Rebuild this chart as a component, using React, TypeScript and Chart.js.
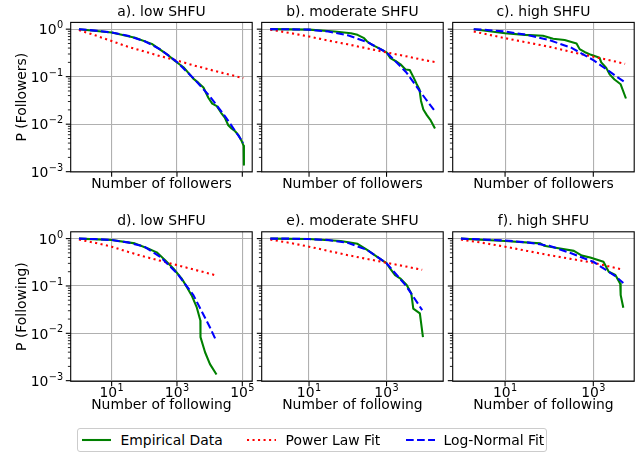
import React, { useEffect, useRef } from 'react';
import { Chart, registerables } from 'chart.js';

Chart.register(...registerables);

const FONT = 'DejaVu Sans';
Chart.defaults.font.family = FONT;

// ---------- data ----------
// a). low SHFU - followers
const aEmpX = [1, 10, 52, 170, 550, 870, 1580, 2240, 3160, 4570, 6460, 9120, 12000, 16600, 22400, 29500, 37200, 46800, 60300, 75900, 95500, 110000, 112000, 112000];
const aEmpY = [1, 0.85, 0.66, 0.49, 0.28, 0.214, 0.158, 0.12, 0.091, 0.074, 0.059, 0.036, 0.027, 0.024, 0.0174, 0.0135, 0.0095, 0.0081, 0.0071, 0.0059, 0.0044, 0.0035, 0.0027, 0.0014];
const aFitX = [1, 3.16, 10, 31.6, 100, 316, 1000, 3160, 10000, 31600, 107000];
const aLogNormY = [1, 0.933, 0.851, 0.724, 0.562, 0.372, 0.204, 0.0933, 0.0389, 0.0138, 0.00407];
const aPowerY = [0.955, 0.741, 0.562, 0.427, 0.339, 0.269, 0.219, 0.174, 0.141, 0.115, 0.0933];

// b). moderate SHFU - followers
const bEmpX = [1, 10, 45.7, 120, 178, 263, 316, 427, 631, 1000, 1259, 1698, 2291, 3090, 3981, 5012, 6026, 7079, 7762, 8913, 10965, 13804, 17783];
const bEmpY = [1, 0.977, 0.891, 0.822, 0.759, 0.646, 0.55, 0.468, 0.398, 0.324, 0.245, 0.214, 0.182, 0.141, 0.138, 0.0955, 0.0692, 0.0537, 0.0309, 0.0204, 0.0155, 0.012, 0.0081];
const bFitX = [1, 3.16, 10, 31.6, 100, 316, 1000, 3162, 10000, 17400];
const bLogNormY = [1, 0.993, 0.977, 0.891, 0.741, 0.537, 0.324, 0.126, 0.0347, 0.0191];
const bPowerY = [0.977, 0.832, 0.7, 0.575, 0.479, 0.394, 0.324, 0.269, 0.221, 0.204];

// c). high SHFU - followers
const cEmpX = [1.95, 10, 28.2, 72.4, 123, 224, 417, 490, 631, 891, 1380, 1514, 1950, 2344, 3020, 4169, 5495];
const cEmpY = [1, 0.822, 0.759, 0.724, 0.631, 0.589, 0.501, 0.38, 0.331, 0.288, 0.251, 0.2, 0.155, 0.112, 0.0871, 0.0692, 0.0347];
const cFitX = [1.95, 3.16, 10, 31.6, 100, 316, 1000, 3162, 5248];
const cLogNormY = [1, 0.977, 0.891, 0.759, 0.589, 0.407, 0.224, 0.105, 0.0759];
const cPowerY = [0.891, 0.813, 0.646, 0.525, 0.427, 0.331, 0.263, 0.209, 0.186];

// d). low SHFU - following
const dEmpX = [1, 10, 51.3, 129, 240, 427, 776, 1380, 1995, 2818, 3981, 5200, 5250, 7244, 10233, 16218];
const dEmpY = [1, 0.933, 0.794, 0.617, 0.513, 0.355, 0.234, 0.145, 0.0955, 0.0631, 0.0363, 0.0186, 0.0083, 0.00398, 0.00224, 0.00135];
const dFitX = [1, 3.16, 10, 31.6, 100, 316, 1000, 3162, 10000, 16200];
const dLogNormY = [1, 0.977, 0.933, 0.832, 0.676, 0.407, 0.186, 0.0646, 0.0138, 0.00676];
const dPowerY = [0.955, 0.813, 0.676, 0.525, 0.417, 0.339, 0.275, 0.224, 0.182, 0.166];

// e). moderate SHFU - following
const eEmpX = [1, 10, 66, 178, 316, 562, 1000, 1230, 1660, 2239, 3311, 4365, 4898, 7244, 8710];
const eEmpY = [1, 0.977, 0.891, 0.776, 0.575, 0.417, 0.302, 0.234, 0.17, 0.145, 0.105, 0.0692, 0.0331, 0.0263, 0.0083];
const eFitX = [1, 3.16, 10, 31.6, 100, 316, 1000, 3162, 8320];
const eLogNormY = [1, 0.998, 0.977, 0.933, 0.813, 0.575, 0.302, 0.102, 0.0309];
const ePowerY = [0.955, 0.813, 0.676, 0.55, 0.447, 0.372, 0.309, 0.257, 0.219];

// f). high SHFU - following
const fEmpX = [1, 10, 63, 76, 151, 363, 550, 851, 1698, 2239, 3162, 4074, 4169, 4786];
const fEmpY = [1, 0.891, 0.794, 0.708, 0.631, 0.55, 0.437, 0.398, 0.324, 0.2, 0.17, 0.112, 0.0646, 0.0347];
const fFitX = [1, 3.16, 10, 31.6, 100, 316, 1000, 3162, 4786];
const fLogNormY = [1, 0.955, 0.912, 0.832, 0.708, 0.49, 0.324, 0.162, 0.115];
const fPowerY = [0.955, 0.813, 0.676, 0.55, 0.447, 0.372, 0.309, 0.24, 0.219];

const PANEL_TITLES = ['a). low SHFU', 'b). moderate SHFU', 'c). high SHFU', 'd). low SHFU', 'e). moderate SHFU', 'f). high SHFU'];
const SERIES_NAMES = ['Empirical Data', 'Power Law Fit', 'Log-Normal Fit'];
const X_TITLES = ['Number of followers', 'Number of following'];
const Y_TITLES = ['P (Followers)', 'P (Following)'];

// tick labels: base "10" with a superscript exponent
const X_TICK_VALUES = [10, 1000, 100000];
const X_TICK_EXPONENTS = ['1', '3', '5'];
const Y_TICK_VALUES = [1, 0.1, 0.01, 0.001];
const Y_TICK_EXPONENTS = ['0', '\u22121', '\u22122', '\u22123'];

// axis limits (shared by column for x, by row for y)
const X_MIN = [0.559, 0.613, 0.65];
const X_MAX = [200700, 29000, 8450];
const Y_MIN = [0.00099, 0.00097];
const Y_MAX = [1.388, 1.392];

// ---------- layout ----------
const COL_LEFT = [70.7, 261.7, 452.7];
const PLOT_W = 181.5;
const ROW_TOP = [22.4, 231.8];
const PLOT_H = 149.5;
const FS = 13.9;
const SUP_FS = FS * 0.7;

const COLORS = { emp: 'green', pl: 'red', ln: 'blue' };
const LW = 2.08;

const zip = (xs: number[], ys: number[]) => xs.map((x, i) => ({ x, y: ys[i] }));

const PANELS = [
  { row: 0, col: 0, empX: aEmpX, empY: aEmpY, fitX: aFitX, lnY: aLogNormY, plY: aPowerY },
  { row: 0, col: 1, empX: bEmpX, empY: bEmpY, fitX: bFitX, lnY: bLogNormY, plY: bPowerY },
  { row: 0, col: 2, empX: cEmpX, empY: cEmpY, fitX: cFitX, lnY: cLogNormY, plY: cPowerY },
  { row: 1, col: 0, empX: dEmpX, empY: dEmpY, fitX: dFitX, lnY: dLogNormY, plY: dPowerY },
  { row: 1, col: 1, empX: eEmpX, empY: eEmpY, fitX: eFitX, lnY: eLogNormY, plY: ePowerY },
  { row: 1, col: 2, empX: fEmpX, empY: fEmpY, fitX: fFitX, lnY: fLogNormY, plY: fPowerY },
];

// draws "10" + raised exponent; anchor: 'center' (x axis) or 'right' (y axis)
function drawPow(ctx: any, exp: string, x: number, baseline: number, anchor: 'center' | 'right') {
  ctx.font = `${FS}px "${FONT}"`;
  const wb = ctx.measureText('10').width;
  ctx.font = `${SUP_FS}px "${FONT}"`;
  const we = ctx.measureText(exp).width;
  const total = wb + we + 0.5;
  const x0 = anchor === 'center' ? x - total / 2 : x - total;
  ctx.textAlign = 'left';
  ctx.textBaseline = 'alphabetic';
  ctx.fillStyle = '#000';
  ctx.font = `${FS}px "${FONT}"`;
  ctx.fillText('10', x0, baseline);
  ctx.font = `${SUP_FS}px "${FONT}"`;
  ctx.fillText(exp, x0 + wb + 0.5, baseline - 6.3);
}

const framePlugin = {
  id: 'frameTicks',
  afterDraw(chart: any) {
    const { ctx, chartArea: a, scales } = chart;
    const opts = chart.options.plugins.frameTicks || {};
    ctx.save();
    ctx.strokeStyle = '#000';
    const xs = scales.x;
    ctx.lineWidth = 1.1;
    xs.ticks.forEach((t: any) => {
      const px = xs.getPixelForValue(t.value);
      ctx.beginPath();
      ctx.moveTo(px, a.bottom);
      ctx.lineTo(px, a.bottom + 4.9);
      ctx.stroke();
      if (opts.xLabels) {
        const i = X_TICK_VALUES.indexOf(t.value);
        if (i >= 0) drawPow(ctx, X_TICK_EXPONENTS[i], px, a.bottom + 15.5, 'center');
      }
    });
    const ys = scales.y;
    ys.ticks.forEach((t: any) => {
      const py = ys.getPixelForValue(t.value);
      const len = t.major ? 4.9 : 2.8;
      ctx.lineWidth = t.major ? 1.1 : 0.85;
      ctx.beginPath();
      ctx.moveTo(a.left - len, py);
      ctx.lineTo(a.left, py);
      ctx.stroke();
      if (opts.yLabels && t.major) {
        const i = Y_TICK_VALUES.indexOf(t.value);
        if (i >= 0) drawPow(ctx, Y_TICK_EXPONENTS[i], a.left - 7.5, py + 5.2, 'right');
      }
    });
    ctx.lineWidth = 1.1;
    ctx.strokeRect(a.left, a.top, a.right - a.left, a.bottom - a.top);
    ctx.restore();
  },
};

function Panel({ p, idx }: { p: any; idx: number }) {
  const ref = useRef<HTMLCanvasElement>(null);
  const M = 66;
  const L = COL_LEFT[p.col];
  const T = ROW_TOP[p.row];
  const cLeft = Math.round(L - M);
  const cWidth = Math.round(PLOT_W + 2 * M);
  const cTop = Math.round(T - 22);
  const bottomRow = p.row === 1;
  const leftCol = p.col === 0;
  const xH = bottomRow ? 36 : 24;
  const cHeight = Math.ceil(T + PLOT_H + xH - cTop) + 2;
  const yW = leftCol ? 62 : 0;
  // a mirror (invisible) axis of the same width on the right keeps the title centred over the plot
  const padLeft = L - cLeft - yW;
  const padRight = cLeft + cWidth - (L + PLOT_W) - yW;
  const padBottom = cTop + cHeight - (T + PLOT_H) - xH;
  const titleLH = FS * 1.2;
  const titleBottomPad = 1.7;
  const titleTopPad = T - cTop - titleLH - titleBottomPad;
  const xTitlePadB = bottomRow ? 3.16 : 3.66;
  const yTitlePadT = 22 - (L - yW) - titleLH / 2;

  useEffect(() => {
    if (!ref.current) return;
    const xmin = X_MIN[p.col], xmax = X_MAX[p.col];
    const ymin = Y_MIN[p.row], ymax = Y_MAX[p.row];
    const font = { family: FONT, size: FS, weight: 'normal' as const, lineHeight: 1.2 };
    const scales: any = {
      x: {
        type: 'logarithmic',
        position: 'bottom',
        min: xmin,
        max: xmax,
        afterBuildTicks: (s: any) => {
          s.ticks = X_TICK_VALUES.filter((v) => v >= xmin && v <= xmax).map((v) => ({ value: v, major: true }));
        },
        afterFit: (s: any) => {
          s.height = xH;
          s.paddingLeft = 0; s.paddingRight = 0; s.paddingTop = 0; s.paddingBottom = 0;
        },
        ticks: { display: false },
        grid: { color: '#b0b0b0', lineWidth: 1.1, drawTicks: false },
        border: { display: false },
        title: { display: true, text: X_TITLES[p.row], color: '#000', font, padding: { top: 0, bottom: xTitlePadB } },
      },
      y: {
        type: 'logarithmic',
        position: 'left',
        min: ymin,
        max: ymax,
        afterBuildTicks: (s: any) => {
          const out: any[] = [];
          Y_TICK_VALUES.forEach((v) => { if (v >= ymin && v <= ymax) out.push({ value: v, major: true }); });
          for (let e = -4; e <= 0; e++) {
            for (let k = 2; k <= 9; k++) {
              const v = k * Math.pow(10, e);
              if (v >= ymin && v <= ymax) out.push({ value: v, major: false });
            }
          }
          out.sort((a, b) => a.value - b.value);
          s.ticks = out;
        },
        afterFit: (s: any) => {
          s.width = yW;
          s.paddingLeft = 0; s.paddingRight = 0; s.paddingTop = 0; s.paddingBottom = 0;
        },
        ticks: { display: false },
        grid: {
          color: (ctx: any) => (ctx.tick && ctx.tick.major ? '#b0b0b0' : 'rgba(0,0,0,0)'),
          lineWidth: 1.1,
          drawTicks: false,
        },
        border: { display: false },
        title: { display: leftCol, text: Y_TITLES[p.row], color: '#000', font, padding: { top: yTitlePadT, bottom: 0 } },
      },
    };
    if (yW > 0) {
      scales.mirror = {
        type: 'linear',
        position: 'right',
        display: true,
        afterFit: (s: any) => {
          s.width = yW;
          s.paddingLeft = 0; s.paddingRight = 0; s.paddingTop = 0; s.paddingBottom = 0;
        },
        ticks: { display: false },
        grid: { display: false, drawTicks: false },
        border: { display: false },
        title: { display: false },
      };
    }
    const chart = new Chart(ref.current, {
      type: 'line',
      data: {
        datasets: [
          { label: SERIES_NAMES[0], data: zip(p.empX, p.empY), borderColor: COLORS.emp, borderWidth: LW, pointRadius: 0, fill: false, order: 3, tension: 0, borderJoinStyle: 'round' },
          { label: SERIES_NAMES[1], data: zip(p.fitX, p.plY), borderColor: COLORS.pl, borderWidth: LW, borderDash: [2.08, 3.43], pointRadius: 0, fill: false, order: 2, tension: 0 },
          { label: SERIES_NAMES[2], data: zip(p.fitX, p.lnY), borderColor: COLORS.ln, borderWidth: LW, borderDash: [7.7, 3.33], pointRadius: 0, fill: false, order: 1, tension: 0 },
        ] as any,
      },
      options: {
        animation: false,
        responsive: false,
        devicePixelRatio: 1,
        events: [],
        layout: { padding: { left: padLeft, right: padRight, top: 0, bottom: padBottom } },
        plugins: {
          legend: { display: false },
          tooltip: { enabled: false },
          title: {
            display: true,
            text: PANEL_TITLES[idx],
            color: '#000',
            font,
            padding: { top: titleTopPad, bottom: titleBottomPad },
          },
          frameTicks: { xLabels: bottomRow, yLabels: leftCol },
        },
        scales,
      } as any,
      plugins: [framePlugin],
    });
    return () => chart.destroy();
  }, []);

  return (
    <canvas
      ref={ref}
      width={cWidth}
      height={cHeight}
      style={{ position: 'absolute', left: cLeft, top: cTop, width: cWidth, height: cHeight }}
    />
  );
}

function LegendLine({ color, dash }: { color: string; dash?: string }) {
  return (
    <svg width={29} height={6} style={{ position: 'absolute', top: 8 }}>
      <line x1={0} y1={3} x2={29} y2={3} stroke={color} strokeWidth={LW} strokeDasharray={dash} />
    </svg>
  );
}

function Legend() {
  const textStyle: React.CSSProperties = { position: 'absolute', top: 1, fontFamily: FONT, fontSize: FS, lineHeight: '20px', color: '#000', whiteSpace: 'nowrap' };
  return (
    <div
      style={{
        position: 'absolute', left: 77, top: 428, width: 470, height: 24, boxSizing: 'border-box',
        border: '1px solid #cccccc', borderRadius: 3, background: 'rgba(255,255,255,0.8)',
      }}
    >
      <div style={{ position: 'absolute', left: 3.5, top: 0 }}><LegendLine color={COLORS.emp} /></div>
      <div style={{ ...textStyle, left: 42.5 }}>{SERIES_NAMES[0]}</div>
      <div style={{ position: 'absolute', left: 168.5, top: 0 }}><LegendLine color={COLORS.pl} dash="2.08 3.43" /></div>
      <div style={{ ...textStyle, left: 207.5 }}>{SERIES_NAMES[1]}</div>
      <div style={{ position: 'absolute', left: 327.5, top: 0 }}><LegendLine color={COLORS.ln} dash="7.7 3.33" /></div>
      <div style={{ ...textStyle, left: 365.5 }}>{SERIES_NAMES[2]}</div>
    </div>
  );
}

export default function App() {
  return (
    <div style={{ position: 'absolute', left: 0, top: 0, width: 644, height: 454, background: '#fff', overflow: 'hidden' }}>
      {PANELS.map((p, i) => (
        <Panel key={i} p={p} idx={i} />
      ))}
      <Legend />
    </div>
  );
}
